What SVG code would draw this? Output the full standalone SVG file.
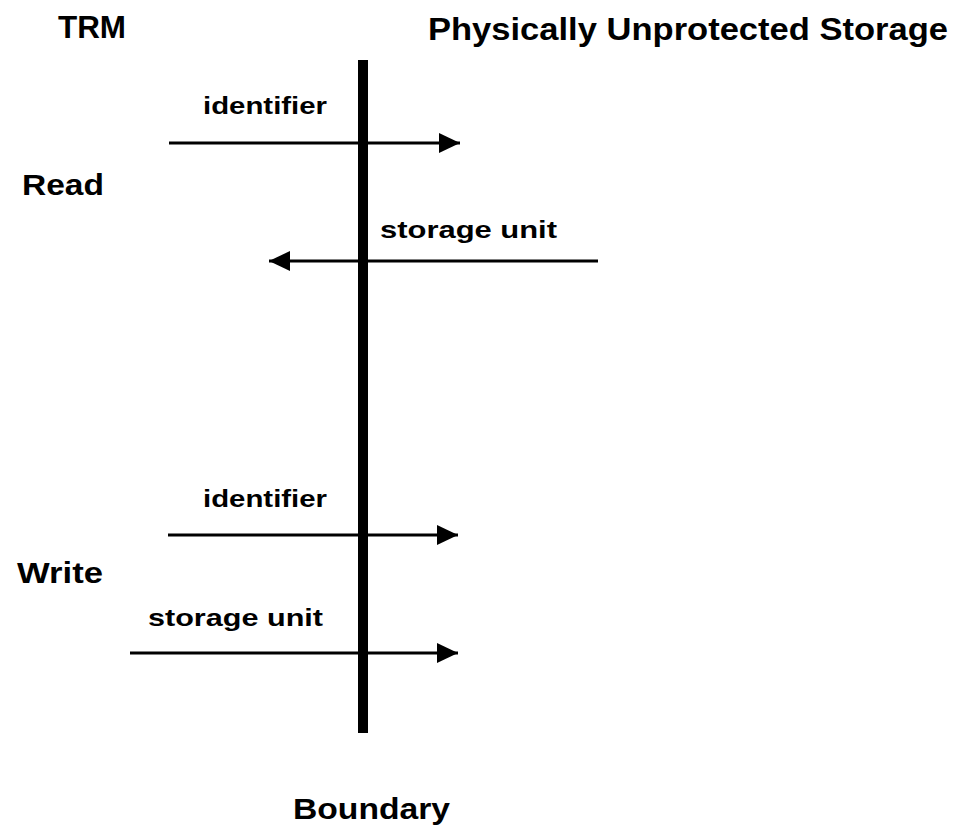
<svg xmlns="http://www.w3.org/2000/svg" width="963" height="827" viewBox="0 0 963 827">
<style>
  text { font-family: "Liberation Sans", Arial, sans-serif; font-weight: bold; fill: #000; }
  .hdr { font-size: 32px; }
  .side { font-size: 29px; }
  .lbl { font-size: 24px; }
  .conn { stroke: #000; stroke-width: 3; fill: none; }
</style>
<defs>
  <marker id="ah" markerUnits="userSpaceOnUse" markerWidth="21" markerHeight="20" refX="21" refY="10" orient="auto">
    <path d="M0,0 L21,10 L0,20 Z" fill="#000"/>
  </marker>
</defs>
<rect x="0" y="0" width="963" height="827" fill="#fff"/>
<g id="header-trm"><text class="hdr" x="58" y="38" textLength="68" lengthAdjust="spacingAndGlyphs">TRM</text></g>
<g id="header-storage"><text class="hdr" x="428" y="40" textLength="520" lengthAdjust="spacingAndGlyphs">Physically Unprotected Storage</text></g>
<g id="read"><text class="side" x="22" y="195" textLength="82" lengthAdjust="spacingAndGlyphs">Read</text></g>
<g id="write"><text class="side" x="17" y="583" textLength="86" lengthAdjust="spacingAndGlyphs">Write</text></g>
<g id="boundary">
  <rect x="358" y="60" width="10" height="673" fill="#000"/>
  <text class="side" x="293" y="819" textLength="157" lengthAdjust="spacingAndGlyphs">Boundary</text>
</g>
<g id="connectors">
  <line class="conn" x1="169" y1="143" x2="460" y2="143" marker-end="url(#ah)"/>
  <line class="conn" x1="598" y1="261" x2="269" y2="261" marker-end="url(#ah)"/>
  <line class="conn" x1="168" y1="535" x2="458" y2="535" marker-end="url(#ah)"/>
  <line class="conn" x1="130" y1="653" x2="458" y2="653" marker-end="url(#ah)"/>
</g>
<g id="labels">
  <text class="lbl" x="203" y="114" textLength="124" lengthAdjust="spacingAndGlyphs">identifier</text>
  <text class="lbl" x="380" y="238" textLength="177" lengthAdjust="spacingAndGlyphs">storage unit</text>
  <text class="lbl" x="203" y="507" textLength="124" lengthAdjust="spacingAndGlyphs">identifier</text>
  <text class="lbl" x="148" y="626" textLength="175" lengthAdjust="spacingAndGlyphs">storage unit</text>
</g>
</svg>
